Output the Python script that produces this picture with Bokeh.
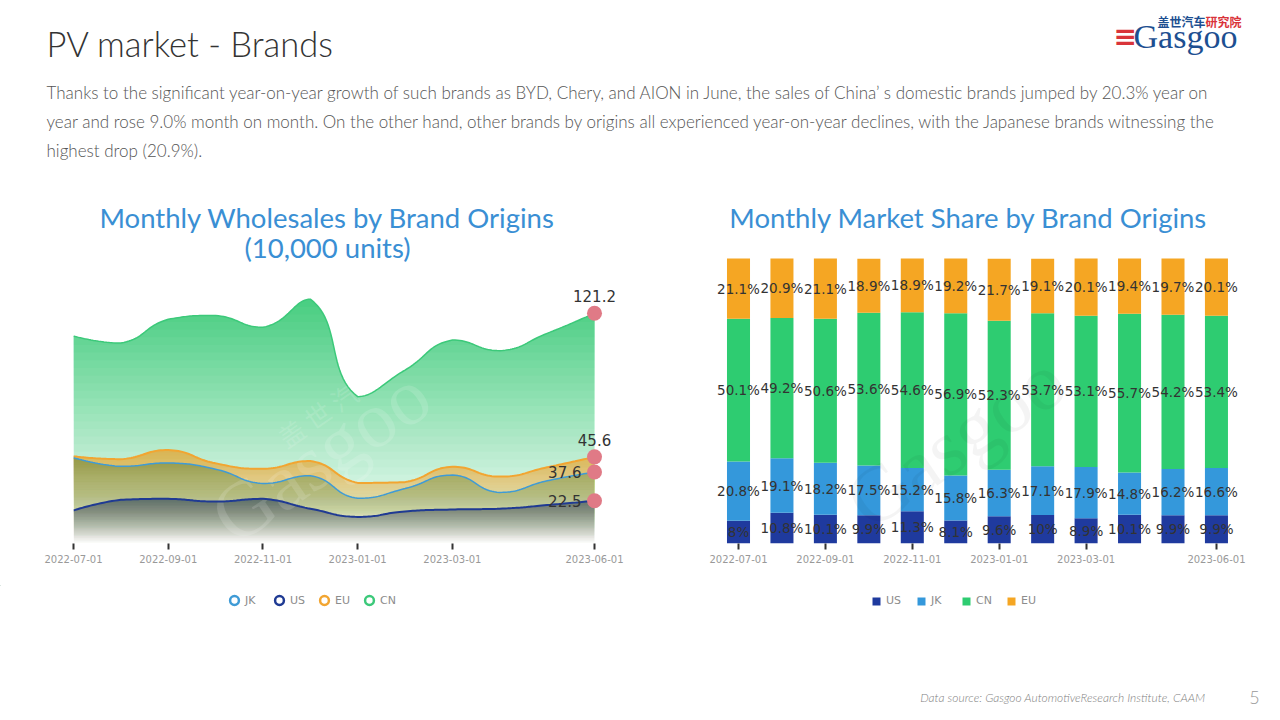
import numpy as np
from bokeh.plotting import figure
from bokeh.models import Range1d, FixedTicker, Legend, LegendItem, ColumnDataSource
from bokeh.layouts import column, row
from bokeh.embed import file_html
from bokeh.resources import INLINE
from bokeh.core.properties import value

# ---------------- data ----------------
months = ["2022-07-01", "2022-08-01", "2022-09-01", "2022-10-01", "2022-11-01", "2022-12-01",
          "2023-01-01", "2023-02-01", "2023-03-01", "2023-04-01", "2023-05-01", "2023-06-01"]
tick_idx = [0, 2, 4, 6, 8, 11]

# monthly wholesales (10,000 units)
ws_jk = [45.2, 40.6, 42.4, 39.1, 31.6, 35.7, 23.8, 28.9, 36.0, 26.9, 33.0, 37.6]
ws_us = [17.4, 23.0, 23.5, 22.1, 23.5, 18.3, 14.0, 16.9, 17.9, 18.3, 20.2, 22.5]
ws_eu = [45.9, 44.4, 49.2, 42.2, 39.3, 43.4, 31.9, 32.3, 40.4, 35.2, 40.1, 45.6]
ws_cn = [109.2, 105.5, 118.0, 120.0, 113.8, 128.6, 77.3, 91.3, 107.1, 101.5, 110.6, 121.2]

# market share (%)
sh_us = [8, 10.8, 10.1, 9.9, 11.3, 8.1, 9.6, 10, 8.9, 10.1, 9.9, 9.9]
sh_jk = [20.8, 19.1, 18.2, 17.5, 15.2, 15.8, 16.3, 17.1, 17.9, 14.8, 16.2, 16.6]
sh_cn = [50.1, 49.2, 50.6, 53.6, 54.6, 56.9, 52.3, 53.7, 53.1, 55.7, 54.2, 53.4]
sh_eu = [21.1, 20.9, 21.1, 18.9, 18.9, 19.2, 21.7, 19.1, 20.1, 19.4, 19.7, 20.1]

page_title = "PV market - Brands"
intro_lines = [
    "Thanks to the significant year-on-year growth of such brands as BYD, Chery, and AION in June, the sales of China\u2019  s domestic brands jumped by 20.3% year on",
    "year and rose 9.0% month on month. On the other hand, other brands by origins all experienced year-on-year declines, with the Japanese brands witnessing the",
    "highest drop (20.9%).",
]
left_title = ["Monthly Wholesales by Brand Origins", "(10,000 units)"]
right_title = "Monthly Market Share by Brand Origins"
source_note = "Data source: Gasgoo AutomotiveResearch Institute, CAAM"
page_no = "5"

# ---------------- styles ----------------
C_US, C_JK, C_CN, C_EU = "#1f3a9e", "#3498db", "#2ecc71", "#f5a623"
TITLE_BLUE = "#3a8fd4"
FONT = "Lato"
LIGHT = "Lato Light, Lato"
NUMF = "DejaVu Sans"
TITLE_SIZE = "27.5px"


def blank(p):
    p.grid.visible = False
    p.outline_line_color = None
    p.background_fill_color = "white"
    p.border_fill_color = "white"


HDR_H, CH_H, FTR_H = 190, 395, 133
F_TOP = HDR_H + CH_H

# ---------------- header (page pixel coordinates) ----------------
hdr = figure(width=1280, height=HDR_H, x_range=Range1d(0, 1280), y_range=Range1d(HDR_H, 0),
             output_backend="svg", toolbar_location=None, min_border=0,
             x_axis_location=None, y_axis_location=None)
blank(hdr)
hdr.text(x=[46], y=[43], text=[page_title], text_font=value(LIGHT), text_font_size="34.5px",
         text_color="#333333", text_baseline="middle")
hdr.text(x=[46] * 3, y=[92, 121, 150], text=intro_lines, text_font=value(LIGHT),
         text_font_size="17px", text_color="#555555", text_baseline="middle")
# logo
hdr.text(x=[1157], y=[21], text=["盖世汽车"], text_font=value("Noto Sans CJK SC"), text_font_size="12px",
         text_font_style="bold", text_color="#1d4f91", text_baseline="middle")
hdr.text(x=[1205], y=[21], text=["研究院"], text_font=value("Noto Sans CJK SC"), text_font_size="12px",
         text_font_style="bold", text_color="#d9343a", text_baseline="middle")
hdr.text(x=[1133], y=[36], text=["Gasgoo"], text_font=value("Liberation Serif"), text_font_size="34px",
         text_color="#1d4f91", text_baseline="middle")
hdr.text(x=[1113], y=[36], text=["\u2261"], text_font=value("DejaVu Sans"), text_font_size="28px",
         text_font_style="bold", text_color="#d9343a", text_baseline="middle")

# ---------------- left chart: wholesales ----------------
L_X0, L_X1, L_FR = 73, 594, 625          # first point px, last point px, frame right px
L_TOP140, L_BASE = 277, 543              # px of value 140 and of 0
SX = (L_X1 - L_X0) / (len(months) - 1)
SY = (L_BASE - L_TOP140) / 140
lp = figure(width=640, height=CH_H,
            x_range=Range1d(0, (L_FR - L_X0) / SX), y_range=Range1d(0, (L_BASE - HDR_H) / SY),
            output_backend="svg", toolbar_location=None, y_axis_location=None,
            min_border_left=L_X0, min_border_right=640 - L_FR,
            min_border_top=0, min_border_bottom=F_TOP - L_BASE)
blank(lp)


def lx(px):
    return (px - L_X0) / SX


def ly(py):
    return (L_BASE - py) / SY


def smooth_curve(vals, smooth=0.5, n=24):
    x = np.arange(len(vals), dtype=float) * SX
    y = np.asarray(vals, dtype=float) * SY
    m = len(vals)
    cpl = np.zeros((m, 2))
    cpr = np.zeros((m, 2))
    for i in range(m):
        P = np.array([x[i], y[i]])
        if i == 0 or i == m - 1:
            cpl[i] = P
            cpr[i] = P
            continue
        v = np.array([x[i + 1] - x[i - 1], y[i + 1] - y[i - 1]])
        d0 = np.hypot(x[i] - x[i - 1], y[i] - y[i - 1])
        d1 = np.hypot(x[i + 1] - x[i], y[i + 1] - y[i])
        r = d0 / (d0 + d1)
        a = P - v * smooth * r
        b = P + v * smooth * (1 - r)
        a[0] = min(max(a[0], min(x[i - 1], x[i])), max(x[i - 1], x[i]))
        a[1] = min(max(a[1], min(y[i - 1], y[i])), max(y[i - 1], y[i]))
        b[0] = min(max(b[0], min(x[i + 1], x[i])), max(x[i + 1], x[i]))
        b[1] = min(max(b[1], min(y[i + 1], y[i])), max(y[i + 1], y[i]))
        cpl[i] = a
        cpr[i] = b
    t = np.linspace(0, 1, n, endpoint=False)
    xs, ys = [], []
    for i in range(m - 1):
        P0 = np.array([x[i], y[i]])
        P3 = np.array([x[i + 1], y[i + 1]])
        P1, P2 = cpr[i], cpl[i + 1]
        for k in range(2):
            seg = ((1 - t) ** 3) * P0[k] + 3 * ((1 - t) ** 2) * t * P1[k] + 3 * (1 - t) * t ** 2 * P2[k] + t ** 3 * P3[k]
            (xs if k == 0 else ys).extend(seg.tolist())
    xs.append(x[-1])
    ys.append(y[-1])
    return np.array(xs) / SX, np.array(ys) / SY


def gradient_area(p, xs, ys, color, amax, n=32):
    top = ys.max()
    prev = 0.0
    for k in range(n):
        lo = top * k / n
        target = amax * (k + 0.5) / n
        alpha = 1 - (1 - target) / (1 - prev)
        prev = target
        p.varea(x=xs, y1=np.full_like(ys, lo), y2=np.maximum(ys, lo), fill_color=color, fill_alpha=alpha)


series = [  # name, values, fill color, max alpha, line color, line width
    ("CN", ws_cn, (46, 204, 113), 0.85, "#3cc97a", 1.5),
    ("EU", ws_eu, (245, 165, 30), 0.66, "#f2a531", 2.0),
    ("JK", ws_jk, (90, 145, 95), 0.40, "#3f9bd6", 1.5),
    ("US", ws_us, (55, 72, 100), 0.60, "#1f3a93", 2.0),
]
curves = {}
for name, vals, fc, amax, lc, lw in series:
    xs, ys = smooth_curve(vals)
    curves[name] = (xs, ys)
    gradient_area(lp, xs, ys, "#%02x%02x%02x" % fc, amax)

# watermark
lp.text(x=[lx(320)], y=[ly(455)], text=["Gasgoo"], angle=0.6, text_font=value("Liberation Serif"),
        text_font_size="80px", text_color="#ffffff", text_alpha=0.14, text_align="center", text_baseline="middle")
lp.text(x=[lx(330)], y=[ly(405)], text=["盖 世 汽 车"], angle=0.6, text_font=value("Noto Sans CJK SC"),
        text_font_size="26px", text_color="#ffffff", text_alpha=0.14, text_align="center", text_baseline="middle")

for name, vals, fc, amax, lc, lw in series:
    xs, ys = curves[name]
    lp.line(xs, ys, line_color=lc, line_width=lw)

last = len(months) - 1
end_vals = [ws_cn[-1], ws_eu[-1], ws_jk[-1], ws_us[-1]]
lp.scatter(x=[last] * 4, y=end_vals, size=15, fill_color="#e07a86", line_color=None)
lp.text(x=[last] * 2, y=end_vals[:2], text=["%.1f" % v for v in end_vals[:2]], y_offset=-11,
        text_align="center", text_baseline="bottom", text_font=value(NUMF), text_font_size="15px",
        text_color="#333333")
lp.text(x=[last] * 2, y=end_vals[2:], text=["%.1f" % v for v in end_vals[2:]], x_offset=-13,
        text_align="right", text_baseline="middle", text_font=value(NUMF), text_font_size="15px",
        text_color="#333333")

# chart title (two lines)
lp.text(x=[lx(327)] * 2, y=[ly(217), ly(247)], text=left_title, text_font=value(FONT),
        text_font_size=TITLE_SIZE, text_color=TITLE_BLUE, text_align="center", text_baseline="middle")


def style_axis(ax):
    ax.ticker = FixedTicker(ticks=tick_idx)
    ax.major_label_overrides = {i: months[i] for i in tick_idx}
    ax.axis_line_color = None
    ax.major_tick_line_color = "#333333"
    ax.major_tick_line_width = 2
    ax.major_tick_out = 6
    ax.major_tick_in = 0
    ax.minor_tick_line_color = None
    ax.major_label_text_font = NUMF
    ax.major_label_text_font_size = "10px"
    ax.major_label_text_color = "#999999"
    ax.major_label_standoff = 5


style_axis(lp.xaxis[0])

# ---------------- right chart: market share ----------------
R_X0, R_DX = 738, 43.45                 # first bar centre px, bar spacing px
R_FL, R_FR = 700, 1262                  # frame left / right px
R_TOP100, R_BASE = 258, 543             # px of 100% and 0%
RSY = (R_BASE - R_TOP100) / 100
rp = figure(width=640, height=CH_H,
            x_range=Range1d(-(R_X0 - R_FL) / R_DX, (R_FR - R_X0) / R_DX),
            y_range=Range1d(0, (R_BASE - HDR_H) / RSY),
            output_backend="svg", toolbar_location=None, y_axis_location=None,
            min_border_left=R_FL - 640, min_border_right=1280 - R_FR,
            min_border_top=0, min_border_bottom=F_TOP - R_BASE)
blank(rp)

src = ColumnDataSource(data=dict(x=list(range(len(months))), us=sh_us, jk=sh_jk, cn=sh_cn, eu=sh_eu))
stack_keys = ["us", "jk", "cn", "eu"]
stack_cols = [C_US, C_JK, C_CN, C_EU]
bars = rp.vbar_stack(stack_keys, x="x", width=0.53, color=stack_cols, source=src, line_color=None)

rp.text(x=[(955 - R_X0) / R_DX], y=[(R_BASE - 440) / RSY], text=["Gasgoo"], angle=0.6,
        text_font=value("Liberation Serif"), text_font_size="80px", text_color="#000000", text_alpha=0.045,
        text_align="center", text_baseline="middle")

cum = np.zeros(len(months))
lab_x, lab_y, lab_t = [], [], []
for arr in [sh_us, sh_jk, sh_cn, sh_eu]:
    a = np.asarray(arr, dtype=float)
    mid = cum + a / 2
    cum = cum + a
    lab_x += list(range(len(months)))
    lab_y += mid.tolist()
    lab_t += ["%g%%" % v for v in arr]
rp.text(x=lab_x, y=lab_y, text=lab_t, text_align="center", text_baseline="middle",
        text_font=value(NUMF), text_font_size="13.5px", text_color="#333333")

rp.text(x=[(968 - R_X0) / R_DX], y=[(R_BASE - 217) / RSY], text=[right_title], text_font=value(FONT),
        text_font_size=TITLE_SIZE, text_color=TITLE_BLUE, text_align="center", text_baseline="middle")

style_axis(rp.xaxis[0])

# ---------------- footer with legends (page pixel coordinates) ----------------
ftr = figure(width=1280, height=FTR_H, x_range=Range1d(0, 1280), y_range=Range1d(F_TOP + FTR_H, F_TOP),
             output_backend="svg", toolbar_location=None, min_border=0,
             x_axis_location=None, y_axis_location=None)
blank(ftr)
ftr.text(x=[1205], y=[697], text=[source_note], text_font=value(LIGHT), text_font_size="12px",
         text_font_style="italic", text_color="#7f7f7f", text_align="right", text_baseline="middle")
ftr.text(x=[1254], y=[697], text=[page_no], text_font=value(LIGHT), text_font_size="18px",
         text_color="#999999", text_align="center", text_baseline="middle")

# legend key renderers: one point each, placed far outside the visible range
OFF = [-5000]
ring = {}
for name, vals, fc, amax, lc, lw in series:
    ring[name] = ftr.scatter(OFF, OFF, marker="circle", fill_color="white", line_color=lc, line_width=2.5)
lleg = Legend(items=[LegendItem(label=n, renderers=[ring[n]]) for n in ["JK", "US", "EU", "CN"]],
              orientation="horizontal", location=(223, (F_TOP + FTR_H) - 600 - 11),
              glyph_width=22, glyph_height=22,
              label_standoff=0, spacing=3, padding=0, margin=0, border_line_color=None,
              background_fill_alpha=0, label_text_font=NUMF, label_text_font_size="11px",
              label_text_color="#8c8c8c")
ftr.add_layout(lleg)

sq = {}
for key, col in zip(["US", "JK", "CN", "EU"], stack_cols):
    sq[key] = ftr.vbar(x=OFF, top=[-5000], bottom=[-5001], width=1, fill_color=col, line_color=None)
rleg = Legend(items=[LegendItem(label=n, renderers=[sq[n]]) for n in ["US", "JK", "CN", "EU"]],
              orientation="horizontal", location=(871, (F_TOP + FTR_H) - 600 - 7),
              glyph_width=10, glyph_height=10,
              label_standoff=5, spacing=10, padding=0, margin=0, border_line_color=None,
              background_fill_alpha=0, label_text_font=NUMF, label_text_font_size="11px",
              label_text_color="#8c8c8c")
ftr.add_layout(rleg)

page = column(hdr, row(lp, rp, spacing=0), ftr, spacing=0)
open("out.html", "w").write(file_html(page, INLINE))
